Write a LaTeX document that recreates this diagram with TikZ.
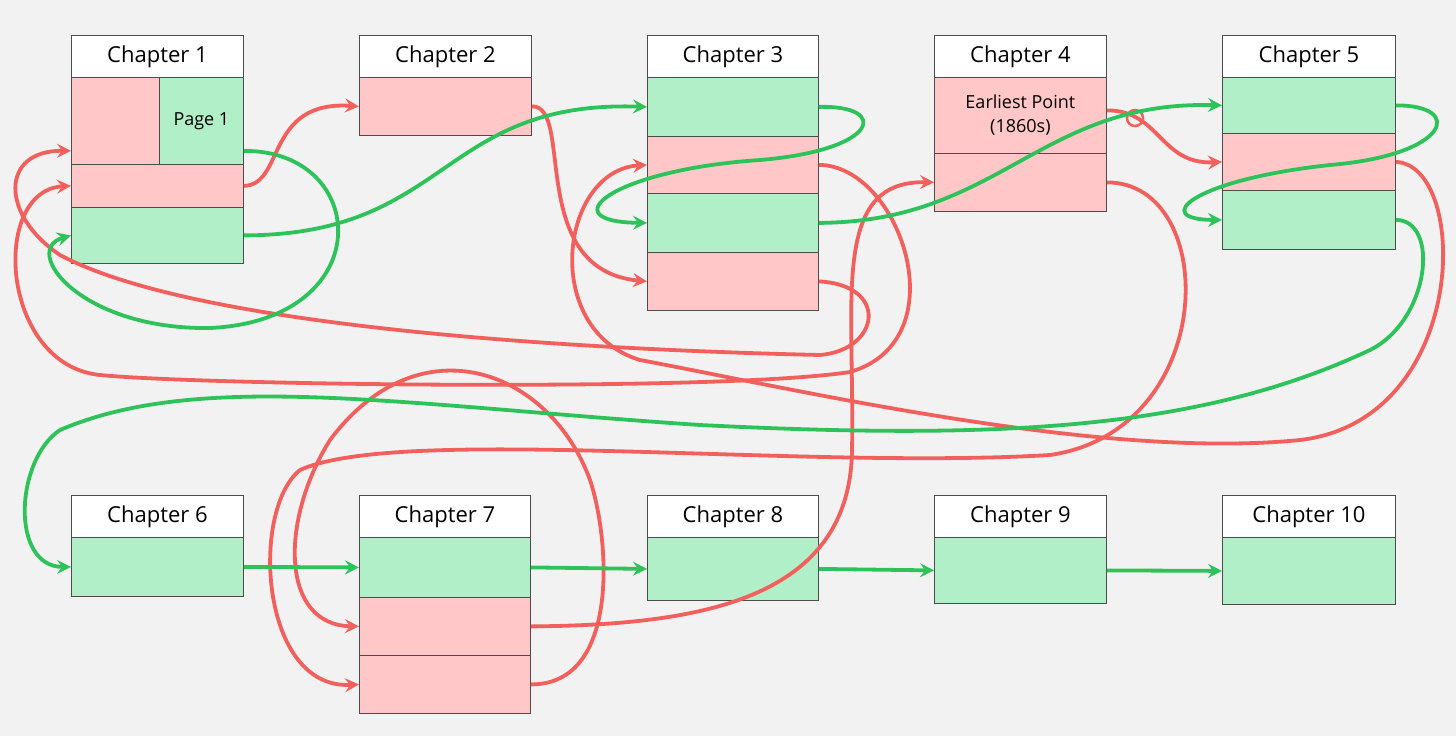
\documentclass[tikz,border=0pt]{standalone}
\usepackage{fontspec}
\setmainfont{Open Sans}
\usetikzlibrary{arrows.meta}
\definecolor{bg}{HTML}{F2F2F2}
\definecolor{pk}{HTML}{FFC7C7}
\definecolor{gn}{HTML}{B0EFC8}
\definecolor{rl}{HTML}{F2605E}
\definecolor{gl}{HTML}{2EC35A}
\newcommand\bx[7]{\node[#1,anchor=north west,minimum width=#5pt,minimum height=#6pt] (#2) at (#3,#4) {#7};}
\begin{document}
\begin{tikzpicture}[x=1pt,y=-1pt,
 base/.style={draw=black!70,line width=0.8pt,inner sep=0pt,align=center},
 tt/.style={base,fill=white,font=\fontsize{22}{26}\selectfont},
 pb/.style={base,fill=pk,font=\fontsize{18}{24}\selectfont},
 gb/.style={base,fill=gn,font=\fontsize{18}{24}\selectfont},
 r/.style={draw=rl,line width=3.8pt,-{Stealth[length=14pt,width=14pt,inset=5pt]}},
 g/.style={draw=gl,line width=3.8pt,-{Stealth[length=14pt,width=14pt,inset=5pt]}}]
\fill[bg] (0,0) rectangle (1456,736);
\useasboundingbox (0,0) rectangle (1456,736);
% Chapter 1
\bx{tt}{t1}{71}{35}{172}{42}{Chapter 1}
\bx{pb}{c1a}{71}{77}{88}{87}{}
\bx{gb}{c1p}{159}{77}{84}{87}{Page 1}
\bx{pb}{c1b}{71}{164}{172}{43}{}
\bx{gb}{c1c}{71}{207}{172}{56}{}
% Chapter 2
\bx{tt}{t2}{359}{35}{172}{42}{Chapter 2}
\bx{pb}{c2a}{359}{77}{172}{58}{}
% Chapter 3
\bx{tt}{t3}{647}{35}{171}{42}{Chapter 3}
\bx{gb}{c3a}{647}{77}{171}{59}{}
\bx{pb}{c3b}{647}{136}{171}{57}{}
\bx{gb}{c3c}{647}{193}{171}{59}{}
\bx{pb}{c3d}{647}{252}{171}{58}{}
% Chapter 4
\bx{tt}{t4}{934}{35}{172}{42}{Chapter 4}
\bx{pb}{c4a}{934}{77}{172}{76}{Earliest Point\\(1860s)}
\bx{pb}{c4b}{934}{153}{172}{58}{}
% Chapter 5
\bx{tt}{t5}{1222}{35}{173}{42}{Chapter 5}
\bx{gb}{c5a}{1222}{77}{173}{56}{}
\bx{pb}{c5b}{1222}{133}{173}{57}{}
\bx{gb}{c5c}{1222}{190}{173}{59}{}
% Row 2
\bx{tt}{t6}{71}{495}{172}{42}{Chapter 6}
\bx{gb}{c6a}{71}{537}{172}{59}{}
\bx{tt}{t7}{359}{495}{171}{42}{Chapter 7}
\bx{gb}{c7a}{359}{537}{171}{60}{}
\bx{pb}{c7b}{359}{597}{171}{58}{}
\bx{pb}{c7c}{359}{655}{171}{58}{}
\bx{tt}{t8}{647}{495}{171}{42}{Chapter 8}
\bx{gb}{c8a}{647}{537}{171}{63}{}
\bx{tt}{t9}{934}{495}{172}{42}{Chapter 9}
\bx{gb}{c9a}{934}{537}{172}{66}{}
\bx{tt}{t10}{1222}{495}{173}{42}{Chapter 10}
\bx{gb}{c10a}{1222}{537}{173}{67}{}
% red connectors
\draw[r] (c1b.east) .. controls (285,185) and (265,100) .. (c2a.west);
\draw[r] (c2a.east) .. controls (575,105) and (525,270) .. (c3d.west);
\draw[r] (c3b.east) .. controls (900,165) and (960,340) .. (850,372)
  .. controls (720,392) and (200,385) .. (100,375)
  .. controls (0,365) and (-10,190) .. (c1b.west);
\draw[r] (c3d.east) .. controls (890,285) and (880,350) .. (820,355)
  .. controls (600,350) and (200,330) .. (60,255)
  .. controls (0,215) and (0,150) .. ([yshift=-30pt]c1a.west);
\draw[r] (c5b.east) .. controls (1470,165) and (1470,420) .. (1300,440)
  .. controls (1100,460) and (800,390) .. (640,360)
  .. controls (540,330) and (560,170) .. (c3b.west);
\draw[r] (c4b.east) .. controls (1220,182) and (1220,430) .. (1050,455)
  .. controls (800,470) and (400,425) .. (300,470)
  .. controls (250,510) and (260,690) .. (c7c.west);
\draw[r] ([yshift=5pt]c4a.east) .. controls (1160,110) and (1160,165) .. (c5b.west);
\draw[rl,line width=2.5pt] (1135,118) circle (8pt);
\draw[r] (c7b.east) .. controls (700,625) and (850,600) .. (852,450)
  .. controls (855,300) and (830,180) .. (c4b.west);
\draw[r] (c7c.east) .. controls (620,685) and (610,540) .. (590,480)
  .. controls (550,370) and (420,320) .. (330,440)
  .. controls (280,520) and (280,625) .. (c7b.west);
% green connectors
\draw[g] ([yshift=-30pt]c1p.east) .. controls (370,150) and (380,320) .. (210,328)
  .. controls (80,330) and (20,250) .. (c1c.west);
\draw[g] (c1c.east) .. controls (450,235) and (440,100) .. (c3a.west);
\draw[g] (c3a.east) .. controls (890,105) and (880,150) .. (760,160)
  .. controls (610,170) and (550,222) .. (c3c.west);
\draw[g] (c3c.east) .. controls (1000,222) and (1040,100) .. (c5a.west);
\draw[g] (c5a.east) .. controls (1465,105) and (1450,155) .. (1330,165)
  .. controls (1190,180) and (1150,220) .. (c5c.west);
\draw[g] (c5c.east) .. controls (1440,220) and (1430,320) .. (1370,350)
  .. controls (1200,430) and (1000,440) .. (700,425)
  .. controls (400,405) and (200,370) .. (60,430)
  .. controls (15,460) and (10,567) .. (c6a.west);
\draw[g] (c6a.east) -- (c7a.west);
\draw[g] (c7a.east) -- (c8a.west);
\draw[g] (c8a.east) -- (c9a.west);
\draw[g] (c9a.east) -- (c10a.west);
\end{tikzpicture}
\end{document}
